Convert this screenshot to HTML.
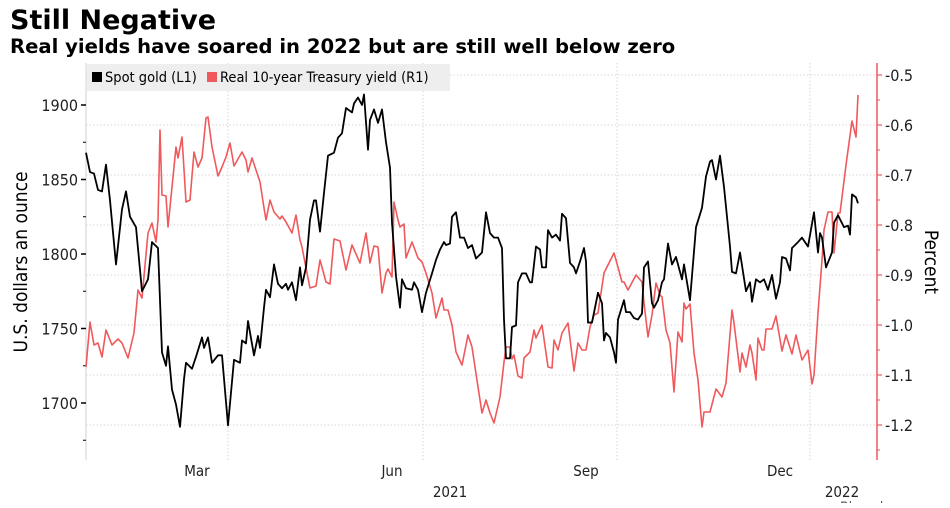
<!DOCTYPE html>
<html><head><meta charset="utf-8"><style>
body{margin:0;background:#fff;width:950px;height:503px;overflow:hidden;font-family:"Liberation Sans",sans-serif}
</style></head><body>
<svg id="chart" width="950" height="503" xmlns="http://www.w3.org/2000/svg" font-family="'DejaVu Sans Condensed','Liberation Sans',sans-serif">
<text x="10" y="29" font-family="'DejaVu Sans','Liberation Sans',sans-serif" font-weight="bold" font-size="27">Still Negative</text>
<text x="10" y="53" font-family="'DejaVu Sans','Liberation Sans',sans-serif" font-weight="bold" font-size="19.6">Real yields have soared in 2022 but are still well below zero</text>
<g id="grid"></g>
<g id="axes"></g>
<g id="series"></g>
<g>
<rect x="87" y="64" width="363" height="27" fill="#eeeeee"/>
<rect x="92" y="72" width="10" height="10" fill="#000"/>
<text x="105" y="82" font-size="14.5">Spot gold (L1)</text>
<rect x="207" y="72" width="10" height="10" fill="#f0595c"/>
<text x="220" y="82" font-size="14.5">Real 10-year Treasury yield (R1)</text>
</g>
<text transform="translate(27,262) rotate(-90)" text-anchor="middle" font-size="19">U.S. dollars an ounce</text>
<text transform="translate(925,262) rotate(90)" text-anchor="middle" font-size="19">Percent</text>
<text x="840" y="512" font-size="14" fill="#555">Bloomberg</text>
</svg>
<script>
const tickGold = [1700, 1750, 1800, 1850, 1900];
const tickYield = [-0.5, -0.6, -0.7, -0.8, -0.9, -1.0, -1.1, -1.2];
const monthLabels = ["Mar", "Jun", "Sep", "Dec"];
const monthLabelDays = [55.5, 153, 250, 347];
const gridDays = [71, 168.5, 265.5, 362];
const yearLabels = ["2021", "2022"];
const yearLabelDays = [182, 378];
const goldDays = [0,2,4,6,8,10,12,15,18,20,22,25,28,31,33,36,38,40,41,43,45,47,49,50,53,55,58,59,61,63,66,68,71,74,77,78,80,81,84,86,87,89,90,92,94,96,98,100,101,103,105,107,108,110,112,114,115,117,119,121,124,126,128,130,133,134,136,138,139,141,142,144,146,148,150,152,153,155,157,158,160,163,164,166,168,170,173,175,177,179,180,182,183,185,187,189,191,193,195,198,200,202,204,206,208,209,210,212,213,215,216,218,220,222,223,225,227,228,230,231,233,235,237,238,240,242,244,245,247,249,250,251,253,256,258,259,260,262,264,265,266,269,270,272,274,276,278,279,281,283,284,286,288,289,291,293,295,298,299,302,305,308,310,312,313,315,317,319,322,323,325,327,330,332,333,335,337,339,341,343,345,347,348,350,352,353,356,358,360,361,364,366,367,368,370,373,374,376,379,381,382,383,385,386];
const goldValues = [1868,1855,1854,1843,1842,1860,1836,1793,1830,1842,1825,1818,1775,1783,1808,1804,1734,1725,1738,1709,1699,1684,1716,1727,1723,1731,1744,1737,1744,1727,1732,1732,1685,1729,1727,1742,1740,1755,1732,1745,1737,1764,1776,1771,1793,1780,1777,1780,1776,1781,1769,1791,1779,1791,1823,1836,1836,1815,1841,1866,1868,1878,1881,1898,1895,1901,1905,1900,1907,1870,1890,1897,1888,1897,1875,1858,1821,1785,1764,1783,1777,1776,1781,1776,1761,1774,1787,1796,1803,1808,1806,1807,1825,1828,1811,1811,1804,1806,1797,1801,1828,1814,1811,1811,1804,1756,1730,1730,1751,1752,1781,1787,1787,1781,1781,1805,1803,1791,1791,1816,1811,1813,1809,1827,1824,1794,1791,1787,1795,1804,1795,1754,1754,1774,1767,1742,1747,1744,1734,1727,1756,1769,1761,1761,1757,1756,1760,1791,1795,1767,1764,1769,1781,1783,1807,1793,1798,1783,1793,1769,1818,1831,1852,1862,1863,1850,1866,1845,1805,1788,1787,1801,1775,1781,1768,1783,1781,1783,1776,1786,1770,1781,1798,1797,1789,1804,1808,1811,1807,1805,1828,1801,1814,1811,1791,1801,1821,1826,1818,1819,1813,1840,1838,1834];
const yieldDays = [0,2,4,6,8,10,13,16,18,21,24,26,28,31,33,35,36,37,38,40,41,45,46,48,50,52,54,56,58,60,61,63,66,68,70,72,74,78,80,81,83,87,89,90,92,94,97,98,100,103,105,107,108,110,112,115,117,120,122,124,127,130,133,137,140,142,144,146,148,150,151,153,154,156,157,159,160,163,166,168,170,173,175,178,179,181,183,185,188,191,193,196,198,200,202,204,207,209,210,212,213,214,216,218,219,222,224,225,228,231,233,234,236,238,241,244,246,248,250,252,254,256,259,261,264,265,268,269,271,275,278,279,281,283,285,287,288,290,292,294,296,298,299,300,302,304,306,308,309,312,315,318,320,323,324,327,328,330,332,333,335,336,338,339,340,343,345,348,350,353,355,358,361,363,364,366,368,369,371,373,374,376,377,380,383,385,386];
const yieldValues = [-1.084,-0.994,-1.04,-1.036,-1.064,-1.01,-1.04,-1.028,-1.036,-1.066,-1.016,-0.93,-0.946,-0.816,-0.796,-0.834,-0.79,-0.61,-0.74,-0.742,-0.804,-0.644,-0.666,-0.624,-0.754,-0.75,-0.654,-0.684,-0.666,-0.586,-0.584,-0.644,-0.702,-0.684,-0.664,-0.636,-0.682,-0.654,-0.67,-0.694,-0.666,-0.714,-0.766,-0.79,-0.75,-0.774,-0.788,-0.782,-0.794,-0.816,-0.78,-0.83,-0.844,-0.886,-0.926,-0.922,-0.87,-0.914,-0.918,-0.828,-0.832,-0.89,-0.84,-0.876,-0.816,-0.876,-0.842,-0.844,-0.936,-0.896,-0.888,-0.904,-0.754,-0.79,-0.804,-0.798,-0.866,-0.834,-0.866,-0.874,-0.896,-0.936,-0.986,-0.946,-0.97,-0.97,-1.0,-1.054,-1.08,-1.02,-1.044,-1.124,-1.176,-1.15,-1.176,-1.196,-1.144,-1.074,-1.044,-1.044,-1.068,-1.06,-1.102,-1.106,-1.066,-1.054,-1.01,-1.026,-1.0,-1.084,-1.086,-1.03,-1.05,-1.016,-0.996,-1.092,-1.036,-1.05,-1.05,-1.004,-0.98,-0.976,-0.896,-0.88,-0.856,-0.87,-0.914,-0.914,-0.93,-0.9,-0.914,-0.956,-1.024,-0.98,-0.916,-0.94,-0.944,-1.01,-1.036,-1.134,-1.014,-1.034,-0.956,-0.968,-0.958,-1.056,-1.11,-1.204,-1.174,-1.174,-1.128,-1.144,-1.116,-0.97,-0.996,-1.094,-1.056,-1.084,-1.04,-1.056,-1.11,-1.026,-1.05,-1.05,-1.008,-1.008,-0.982,-1.052,-1.02,-1.058,-1.02,-1.07,-1.05,-1.118,-1.1,-0.976,-0.87,-0.81,-0.774,-0.774,-0.856,-0.776,-0.776,-0.68,-0.592,-0.624,-0.54];

const NS = "http://www.w3.org/2000/svg";
const PL = 86, PR = 877, PT = 63, PB = 460;
function xScale(d){ return PL + d * 2; }
function yGold(v){ return 105 + (1900 - v) * 74.5 / 50; }
function yYield(v){ return 75 + (-0.5 - v) * 500; }
function mk(tag, attrs, parent){
  const e = document.createElementNS(NS, tag);
  for (const k in attrs) e.setAttribute(k, attrs[k]);
  parent.appendChild(e);
  return e;
}
const grid = document.getElementById('grid');
const axes = document.getElementById('axes');
const series = document.getElementById('series');

tickYield.forEach(v => {
  const y = yYield(v);
  const g = mk('line', {x1: PL, x2: PR, y1: y, y2: y, stroke: '#d6d6d6', 'stroke-dasharray': '1.5,2', 'stroke-width': 1}, grid);
  
  
  const t = mk('line', {x1: PR, x2: PR + 5, y1: y, y2: y, stroke: '#f0595c', 'stroke-width': 1.2}, axes);
  
  
  const m = mk('line', {x1: PR, x2: PR + 3, y1: y + 25, y2: y + 25, stroke: '#f0595c', 'stroke-width': 1}, axes);
  
  
  const lb = mk('text', {x: PR + 8, y: y + 6, 'font-size': 16, fill: '#222'}, axes);
  lb.textContent = v.toFixed(1);
  
  
});
gridDays.forEach(d => {
  const x = xScale(d);
  const g = mk('line', {x1: x, x2: x, y1: PT, y2: PB, stroke: '#d6d6d6', 'stroke-dasharray': '1.5,2', 'stroke-width': 1}, grid);
  
  
});
const la = mk('line', {x1: PL, x2: PL, y1: PT, y2: PB, stroke: '#d0d0d0', 'stroke-width': 1}, axes);


const ra = mk('line', {x1: PR, x2: PR, y1: PT, y2: PB, stroke: '#f0595c', 'stroke-width': 1.5}, axes);


tickGold.forEach(v => {
  const y = yGold(v);
  const t = mk('line', {x1: PL - 5, x2: PL, y1: y, y2: y, stroke: '#000', 'stroke-width': 1.5}, axes);
  
  
  const m = mk('line', {x1: PL - 3, x2: PL, y1: yGold(v - 25), y2: yGold(v - 25), stroke: '#000', 'stroke-width': 1}, axes);
  
  
  const lb = mk('text', {x: PL - 8, y: y + 6, 'font-size': 16, 'text-anchor': 'end', fill: '#222'}, axes);
  lb.textContent = v;
  
  
});
monthLabels.forEach((m, i) => {
  const t = mk('text', {x: xScale(monthLabelDays[i]), y: 476, 'font-size': 15, 'text-anchor': 'middle', fill: '#222'}, axes);
  t.textContent = m;
  
  
});
yearLabels.forEach((m, i) => {
  const t = mk('text', {x: xScale(yearLabelDays[i]), y: 497, 'font-size': 15, 'text-anchor': 'middle', fill: '#222'}, axes);
  t.textContent = m;
  
  
});
const yp = mk('polyline', {points: yieldDays.map((d, i) => xScale(d) + ',' + yYield(yieldValues[i])).join(' '), fill: 'none', stroke: '#f0595c', 'stroke-width': 1.6, 'stroke-linejoin': 'round'}, series);


const gp = mk('polyline', {points: goldDays.map((d, i) => xScale(d) + ',' + yGold(goldValues[i])).join(' '), fill: 'none', stroke: '#000', 'stroke-width': 1.8, 'stroke-linejoin': 'round'}, series);


</script>
</body></html>
